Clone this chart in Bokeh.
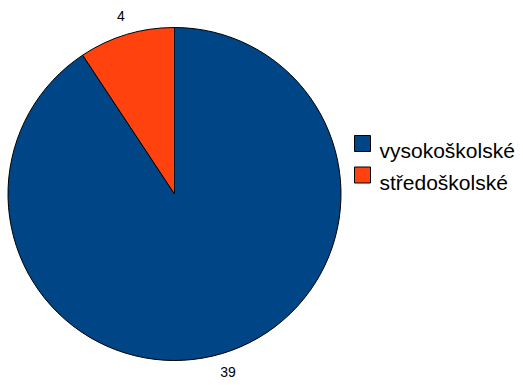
import math
from bokeh.plotting import figure
from bokeh.models import Range1d, ColumnDataSource
from bokeh.core.properties import value
from bokeh.embed import file_html
from bokeh.resources import INLINE

categories = ["vysokoškolské", "středoškolské"]
counts = [39, 4]
colors = ["#004586", "#ff420e"]

W, H = 523, 385
cx, cy = 174, H - 193.5
R = 166.5
label_r = 186

total = sum(counts)
starts, ends, lx, ly, labels = [], [], [], [], []
acc = 0
for c in counts:
    a0 = math.pi / 2 - 2 * math.pi * acc / total
    a1 = math.pi / 2 - 2 * math.pi * (acc + c) / total
    starts.append(a0)
    ends.append(a1)
    mid = (a0 + a1) / 2
    lx.append(cx + label_r * math.cos(mid))
    ly.append(cy + label_r * math.sin(mid))
    labels.append(str(c))
    acc += c

p = figure(width=W, height=H, output_backend="svg", toolbar_location=None,
           x_range=Range1d(0, W), y_range=Range1d(0, H), min_border=0)
p.axis.visible = False
p.grid.visible = False
p.outline_line_color = None
p.background_fill_color = "white"
p.border_fill_color = "white"

src = ColumnDataSource(dict(start=starts, end=ends, color=colors))
p.wedge(x=cx, y=cy, radius=R, start_angle="start", end_angle="end",
        direction="clock", fill_color="color", line_color="black",
        line_width=1, source=src)

p.text(x=lx, y=ly, text=labels, text_align="center", text_baseline="middle",
       text_font=value("Liberation Sans"), text_font_size="14px",
       text_color="black")

# legend
lg_x = 362
lg_y0 = H - 143
lg_dy = 31.5
sq_y = [lg_y0 - i * lg_dy for i in range(len(categories))]
p.rect(x=[lg_x] * len(categories), y=sq_y, width=16, height=16,
       fill_color=colors, line_color="black", line_width=1)
p.text(x=[379] * len(categories), y=[y - 7 for y in sq_y], text=categories,
       text_align="left", text_baseline="alphabetic",
       text_font=value("Liberation Sans"), text_font_size="21px",
       text_color="black")

open("out.html", "w").write(file_html(p, INLINE))
